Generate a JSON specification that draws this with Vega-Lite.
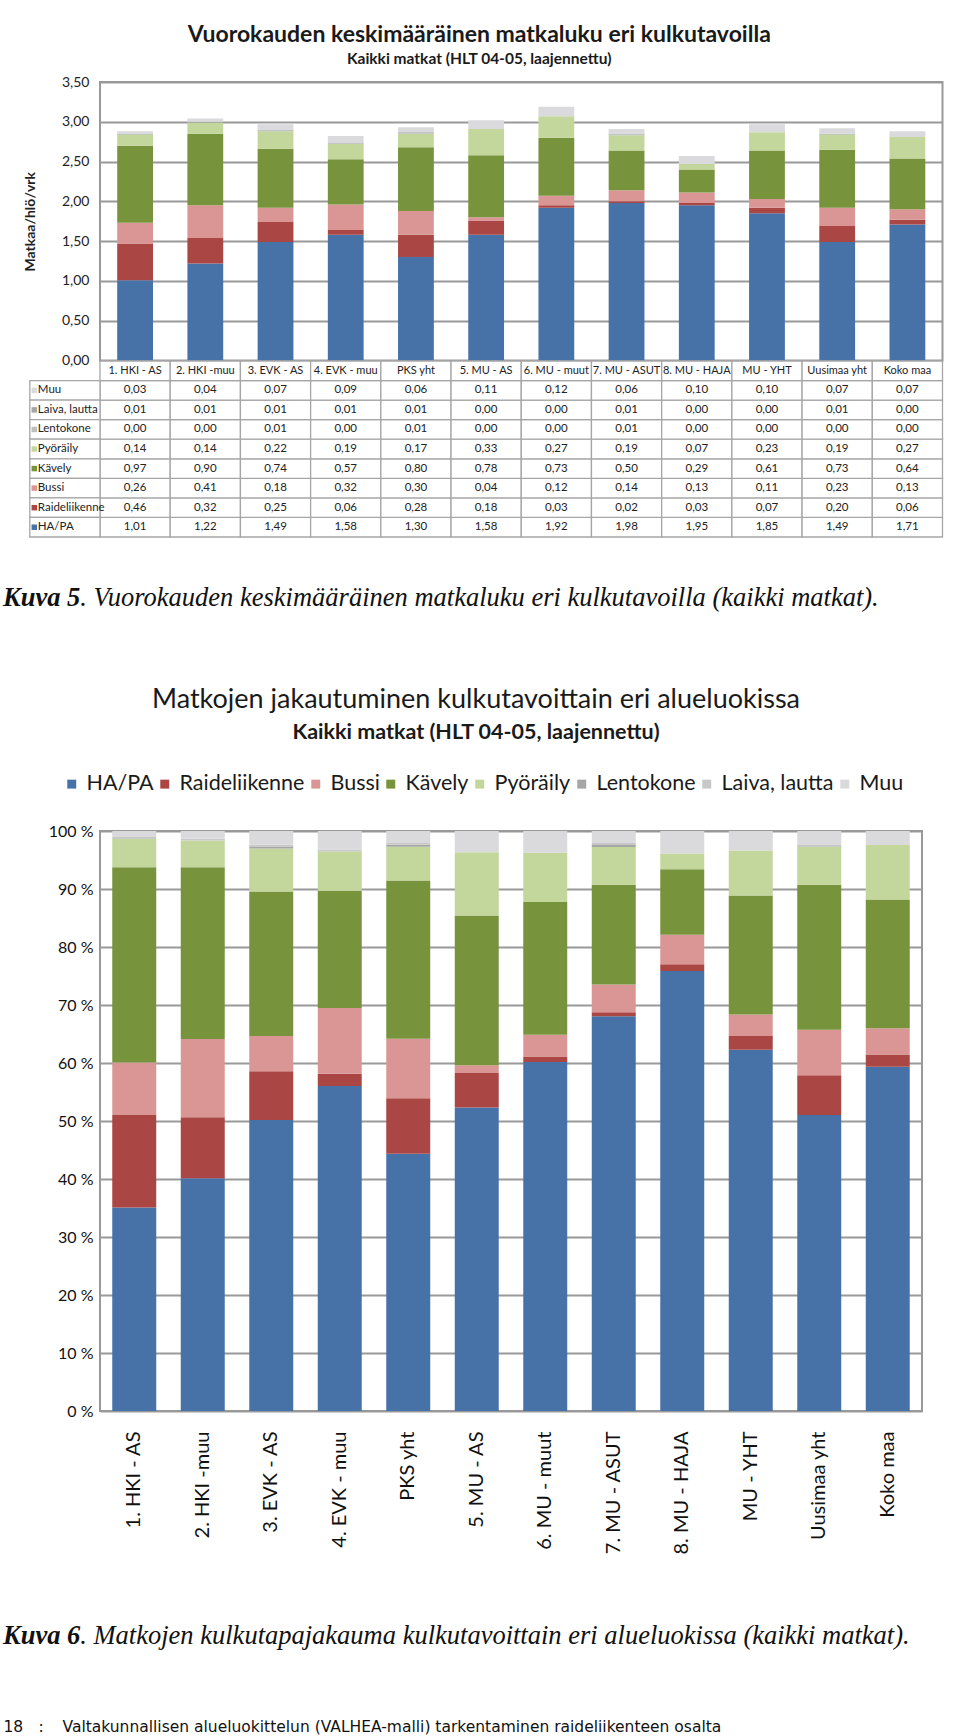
{
  "$schema": "https://vega.github.io/schema/vega-lite/v6.json",
  "background": "white",
  "padding": {"left": 3, "top": 22, "right": 0, "bottom": 0},
  "config": {
    "font": "Lato",
    "locale": {"number": {"decimal": ",", "thousands": "\u00a0", "grouping": [3], "currency": ["", " €"]}},
    "view": {"stroke": null},
    "axis": {"labelFont": "Lato", "titleFont": "Lato"},
    "legend": {"labelFont": "Lato"},
    "title": {"font": "Lato", "subtitleFont": "Lato"},
    "text": {"font": "Lato"}
  },
  "datasets": {
    "trips": [
      {"alue":"1. HKI - AS","kulkutapa":"HA/PA","matkat":1.01},
      {"alue":"2. HKI -muu","kulkutapa":"HA/PA","matkat":1.22},
      {"alue":"3. EVK - AS","kulkutapa":"HA/PA","matkat":1.49},
      {"alue":"4. EVK - muu","kulkutapa":"HA/PA","matkat":1.58},
      {"alue":"PKS yht","kulkutapa":"HA/PA","matkat":1.30},
      {"alue":"5. MU - AS","kulkutapa":"HA/PA","matkat":1.58},
      {"alue":"6. MU - muut","kulkutapa":"HA/PA","matkat":1.92},
      {"alue":"7. MU - ASUT","kulkutapa":"HA/PA","matkat":1.98},
      {"alue":"8. MU - HAJA","kulkutapa":"HA/PA","matkat":1.95},
      {"alue":"MU - YHT","kulkutapa":"HA/PA","matkat":1.85},
      {"alue":"Uusimaa yht","kulkutapa":"HA/PA","matkat":1.49},
      {"alue":"Koko maa","kulkutapa":"HA/PA","matkat":1.71},
      {"alue":"1. HKI - AS","kulkutapa":"Raideliikenne","matkat":0.46},
      {"alue":"2. HKI -muu","kulkutapa":"Raideliikenne","matkat":0.32},
      {"alue":"3. EVK - AS","kulkutapa":"Raideliikenne","matkat":0.25},
      {"alue":"4. EVK - muu","kulkutapa":"Raideliikenne","matkat":0.06},
      {"alue":"PKS yht","kulkutapa":"Raideliikenne","matkat":0.28},
      {"alue":"5. MU - AS","kulkutapa":"Raideliikenne","matkat":0.18},
      {"alue":"6. MU - muut","kulkutapa":"Raideliikenne","matkat":0.03},
      {"alue":"7. MU - ASUT","kulkutapa":"Raideliikenne","matkat":0.02},
      {"alue":"8. MU - HAJA","kulkutapa":"Raideliikenne","matkat":0.03},
      {"alue":"MU - YHT","kulkutapa":"Raideliikenne","matkat":0.07},
      {"alue":"Uusimaa yht","kulkutapa":"Raideliikenne","matkat":0.20},
      {"alue":"Koko maa","kulkutapa":"Raideliikenne","matkat":0.06},
      {"alue":"1. HKI - AS","kulkutapa":"Bussi","matkat":0.26},
      {"alue":"2. HKI -muu","kulkutapa":"Bussi","matkat":0.41},
      {"alue":"3. EVK - AS","kulkutapa":"Bussi","matkat":0.18},
      {"alue":"4. EVK - muu","kulkutapa":"Bussi","matkat":0.32},
      {"alue":"PKS yht","kulkutapa":"Bussi","matkat":0.30},
      {"alue":"5. MU - AS","kulkutapa":"Bussi","matkat":0.04},
      {"alue":"6. MU - muut","kulkutapa":"Bussi","matkat":0.12},
      {"alue":"7. MU - ASUT","kulkutapa":"Bussi","matkat":0.14},
      {"alue":"8. MU - HAJA","kulkutapa":"Bussi","matkat":0.13},
      {"alue":"MU - YHT","kulkutapa":"Bussi","matkat":0.11},
      {"alue":"Uusimaa yht","kulkutapa":"Bussi","matkat":0.23},
      {"alue":"Koko maa","kulkutapa":"Bussi","matkat":0.13},
      {"alue":"1. HKI - AS","kulkutapa":"Kävely","matkat":0.97},
      {"alue":"2. HKI -muu","kulkutapa":"Kävely","matkat":0.90},
      {"alue":"3. EVK - AS","kulkutapa":"Kävely","matkat":0.74},
      {"alue":"4. EVK - muu","kulkutapa":"Kävely","matkat":0.57},
      {"alue":"PKS yht","kulkutapa":"Kävely","matkat":0.80},
      {"alue":"5. MU - AS","kulkutapa":"Kävely","matkat":0.78},
      {"alue":"6. MU - muut","kulkutapa":"Kävely","matkat":0.73},
      {"alue":"7. MU - ASUT","kulkutapa":"Kävely","matkat":0.50},
      {"alue":"8. MU - HAJA","kulkutapa":"Kävely","matkat":0.29},
      {"alue":"MU - YHT","kulkutapa":"Kävely","matkat":0.61},
      {"alue":"Uusimaa yht","kulkutapa":"Kävely","matkat":0.73},
      {"alue":"Koko maa","kulkutapa":"Kävely","matkat":0.64},
      {"alue":"1. HKI - AS","kulkutapa":"Pyöräily","matkat":0.14},
      {"alue":"2. HKI -muu","kulkutapa":"Pyöräily","matkat":0.14},
      {"alue":"3. EVK - AS","kulkutapa":"Pyöräily","matkat":0.22},
      {"alue":"4. EVK - muu","kulkutapa":"Pyöräily","matkat":0.19},
      {"alue":"PKS yht","kulkutapa":"Pyöräily","matkat":0.17},
      {"alue":"5. MU - AS","kulkutapa":"Pyöräily","matkat":0.33},
      {"alue":"6. MU - muut","kulkutapa":"Pyöräily","matkat":0.27},
      {"alue":"7. MU - ASUT","kulkutapa":"Pyöräily","matkat":0.19},
      {"alue":"8. MU - HAJA","kulkutapa":"Pyöräily","matkat":0.07},
      {"alue":"MU - YHT","kulkutapa":"Pyöräily","matkat":0.23},
      {"alue":"Uusimaa yht","kulkutapa":"Pyöräily","matkat":0.19},
      {"alue":"Koko maa","kulkutapa":"Pyöräily","matkat":0.27},
      {"alue":"1. HKI - AS","kulkutapa":"Lentokone","matkat":0.00},
      {"alue":"2. HKI -muu","kulkutapa":"Lentokone","matkat":0.00},
      {"alue":"3. EVK - AS","kulkutapa":"Lentokone","matkat":0.01},
      {"alue":"4. EVK - muu","kulkutapa":"Lentokone","matkat":0.00},
      {"alue":"PKS yht","kulkutapa":"Lentokone","matkat":0.01},
      {"alue":"5. MU - AS","kulkutapa":"Lentokone","matkat":0.00},
      {"alue":"6. MU - muut","kulkutapa":"Lentokone","matkat":0.00},
      {"alue":"7. MU - ASUT","kulkutapa":"Lentokone","matkat":0.01},
      {"alue":"8. MU - HAJA","kulkutapa":"Lentokone","matkat":0.00},
      {"alue":"MU - YHT","kulkutapa":"Lentokone","matkat":0.00},
      {"alue":"Uusimaa yht","kulkutapa":"Lentokone","matkat":0.00},
      {"alue":"Koko maa","kulkutapa":"Lentokone","matkat":0.00},
      {"alue":"1. HKI - AS","kulkutapa":"Laiva, lautta","matkat":0.01},
      {"alue":"2. HKI -muu","kulkutapa":"Laiva, lautta","matkat":0.01},
      {"alue":"3. EVK - AS","kulkutapa":"Laiva, lautta","matkat":0.01},
      {"alue":"4. EVK - muu","kulkutapa":"Laiva, lautta","matkat":0.01},
      {"alue":"PKS yht","kulkutapa":"Laiva, lautta","matkat":0.01},
      {"alue":"5. MU - AS","kulkutapa":"Laiva, lautta","matkat":0.00},
      {"alue":"6. MU - muut","kulkutapa":"Laiva, lautta","matkat":0.00},
      {"alue":"7. MU - ASUT","kulkutapa":"Laiva, lautta","matkat":0.01},
      {"alue":"8. MU - HAJA","kulkutapa":"Laiva, lautta","matkat":0.00},
      {"alue":"MU - YHT","kulkutapa":"Laiva, lautta","matkat":0.00},
      {"alue":"Uusimaa yht","kulkutapa":"Laiva, lautta","matkat":0.01},
      {"alue":"Koko maa","kulkutapa":"Laiva, lautta","matkat":0.00},
      {"alue":"1. HKI - AS","kulkutapa":"Muu","matkat":0.03},
      {"alue":"2. HKI -muu","kulkutapa":"Muu","matkat":0.04},
      {"alue":"3. EVK - AS","kulkutapa":"Muu","matkat":0.07},
      {"alue":"4. EVK - muu","kulkutapa":"Muu","matkat":0.09},
      {"alue":"PKS yht","kulkutapa":"Muu","matkat":0.06},
      {"alue":"5. MU - AS","kulkutapa":"Muu","matkat":0.11},
      {"alue":"6. MU - muut","kulkutapa":"Muu","matkat":0.12},
      {"alue":"7. MU - ASUT","kulkutapa":"Muu","matkat":0.06},
      {"alue":"8. MU - HAJA","kulkutapa":"Muu","matkat":0.10},
      {"alue":"MU - YHT","kulkutapa":"Muu","matkat":0.10},
      {"alue":"Uusimaa yht","kulkutapa":"Muu","matkat":0.07},
      {"alue":"Koko maa","kulkutapa":"Muu","matkat":0.07}
    ],
    "areas": [
      {"alue":"1. HKI - AS"},{"alue":"2. HKI -muu"},{"alue":"3. EVK - AS"},{"alue":"4. EVK - muu"},
      {"alue":"PKS yht"},{"alue":"5. MU - AS"},{"alue":"6. MU - muut"},{"alue":"7. MU - ASUT"},
      {"alue":"8. MU - HAJA"},{"alue":"MU - YHT"},{"alue":"Uusimaa yht"},{"alue":"Koko maa"}
    ],
    "modes": [
      {"kulkutapa":"Muu","jarjestys":8},{"kulkutapa":"Laiva, lautta","jarjestys":7},{"kulkutapa":"Lentokone","jarjestys":6},{"kulkutapa":"Pyöräily","jarjestys":5},
      {"kulkutapa":"Kävely","jarjestys":4},{"kulkutapa":"Bussi","jarjestys":3},{"kulkutapa":"Raideliikenne","jarjestys":2},{"kulkutapa":"HA/PA","jarjestys":1}
    ],
    "captions": [
      {"kuva5a":"Kuva 5","kuva5b":". Vuorokauden keskimääräinen matkaluku eri kulkutavoilla (kaikki matkat).",
       "kuva6a":"Kuva 6","kuva6b":". Matkojen kulkutapajakauma kulkutavoittain eri alueluokissa (kaikki matkat).",
       "sivu":"18","sep":":","alatunniste":"Valtakunnallisen alueluokittelun (VALHEA-malli) tarkentaminen raideliikenteen osalta"}
    ]
  },
  "resolve": {"scale": {"x": "independent", "y": "independent", "color": "independent"}, "legend": {"color": "independent"}},
  "spacing": 0,
  "vconcat": [
    {
      "spacing": 0,
      "bounds": "flush",
      "resolve": {"scale": {"x": "independent", "y": "independent", "color": "independent"}},
      "vconcat": [
        {
          "width": 842.5,
          "height": 278.5,
          "view": {"stroke": "#999999", "strokeWidth": 2},
          "title": {
            "text": "Vuorokauden keskimääräinen matkaluku eri kulkutavoilla",
            "subtitle": "Kaikki matkat (HLT 04-05, laajennettu)",
            "fontSize": 23, "fontWeight": "bold", "color": "#1a1a1a",
            "subtitleFontSize": 15.5, "subtitleFontWeight": "bold", "subtitleColor": "#1a1a1a",
            "anchor": "middle", "offset": 8, "subtitlePadding": 5, "dx": -42
          },
          "data": {"name": "trips"},
          "transform": [{"lookup": "kulkutapa", "from": {"data": {"name": "modes"}, "key": "kulkutapa", "fields": ["jarjestys"]}}],
          "mark": {"type": "bar", "width": {"band": 0.51}},
          "encoding": {
            "x": {"field": "alue", "type": "nominal",
                  "sort": ["1. HKI - AS","2. HKI -muu","3. EVK - AS","4. EVK - muu","PKS yht","5. MU - AS","6. MU - muut","7. MU - ASUT","8. MU - HAJA","MU - YHT","Uusimaa yht","Koko maa"],
                  "scale": {"paddingInner": 0, "paddingOuter": 0}, "axis": null},
            "y": {"aggregate": "sum", "field": "matkat", "type": "quantitative",
                  "scale": {"domain": [0, 3.5]},
                  "axis": {"values": [0, 0.5, 1, 1.5, 2, 2.5, 3, 3.5], "format": ".2f", "title": "Matkaa/hlö/vrk",
                           "grid": true, "gridColor": "#999999", "gridWidth": 2, "domain": false, "ticks": false, "tickSize": 0,
                           "labelFontSize": 14, "labelPadding": 11, "labelColor": "#222222",
                           "titleFontSize": 14, "titleFontWeight": "bold", "titleColor": "#222222",
                           "minExtent": 52, "maxExtent": 52, "titlePadding": 11}},
            "color": {"field": "kulkutapa", "type": "nominal",
                      "scale": {"domain": ["HA/PA","Raideliikenne","Bussi","Kävely","Pyöräily","Lentokone","Laiva, lautta","Muu"],
                                "range": ["#4672A8","#AA4643","#D99694","#77933C","#C3D69B","#BFBFBF","#A6A6A6","#DADADD"]},
                      "legend": null},
            "order": {"field": "jarjestys", "type": "quantitative", "sort": "ascending"}
          }
        },
        {
          "width": 842.5,
          "height": 176,
          "layer": [
            {
              "data": {"name": "trips"},
              "mark": {"type": "rect", "fill": "white", "stroke": "#a6a6a6", "strokeWidth": 1.3},
              "encoding": {
                "x": {"field": "alue", "type": "nominal", "scale": {"domain": ["1. HKI - AS","2. HKI -muu","3. EVK - AS","4. EVK - muu","PKS yht","5. MU - AS","6. MU - muut","7. MU - ASUT","8. MU - HAJA","MU - YHT","Uusimaa yht","Koko maa"], "paddingInner": 0, "paddingOuter": 0}, "axis": null},
                "y": {"field": "kulkutapa", "type": "nominal", "scale": {"domain": ["hdr","Muu","Laiva, lautta","Lentokone","Pyöräily","Kävely","Bussi","Raideliikenne","HA/PA"], "paddingInner": 0, "paddingOuter": 0}, "axis": null}
              }
            },
            {
              "data": {"name": "areas"},
              "mark": {"type": "rect", "fill": "white", "stroke": "#a6a6a6", "strokeWidth": 1.3},
              "encoding": {
                "x": {"field": "alue", "type": "nominal"},
                "y": {"datum": "hdr", "type": "nominal"}
              }
            },
            {
              "data": {"name": "modes"},
              "mark": {"type": "rect", "fill": "white", "stroke": "#a6a6a6", "strokeWidth": 1.3, "xOffset": -70.2, "x2Offset": -70.2},
              "encoding": {
                "x": {"datum": "1. HKI - AS", "type": "nominal"},
                "y": {"field": "kulkutapa", "type": "nominal"}
              }
            },
            {
              "data": {"name": "trips"},
              "mark": {"type": "text", "fontSize": 11.5, "color": "#222222", "baseline": "middle"},
              "encoding": {
                "x": {"field": "alue", "type": "nominal"},
                "y": {"field": "kulkutapa", "type": "nominal"},
                "text": {"field": "matkat", "type": "quantitative", "format": ".2f"}
              }
            },
            {
              "data": {"name": "areas"},
              "mark": {"type": "text", "fontSize": 11, "color": "#222222", "baseline": "middle"},
              "encoding": {
                "x": {"field": "alue", "type": "nominal"},
                "y": {"datum": "hdr", "type": "nominal"},
                "text": {"field": "alue", "type": "nominal"}
              }
            },
            {
              "data": {"name": "modes"},
              "mark": {"type": "square", "size": 30, "opacity": 1, "xOffset": -100.8},
              "encoding": {
                "x": {"datum": "1. HKI - AS", "type": "nominal"},
                "y": {"field": "kulkutapa", "type": "nominal"},
                "color": {"field": "kulkutapa", "type": "nominal",
                          "scale": {"domain": ["HA/PA","Raideliikenne","Bussi","Kävely","Pyöräily","Lentokone","Laiva, lautta","Muu"],
                                    "range": ["#4672A8","#AA4643","#D99694","#77933C","#C3D69B","#BFBFBF","#A6A6A6","#DADADD"]},
                          "legend": null}
              }
            },
            {
              "data": {"name": "modes"},
              "mark": {"type": "text", "fontSize": 11.5, "color": "#222222", "align": "left", "baseline": "middle", "dx": -97.3},
              "encoding": {
                "x": {"datum": "1. HKI - AS", "type": "nominal"},
                "y": {"field": "kulkutapa", "type": "nominal"},
                "text": {"field": "kulkutapa", "type": "nominal"}
              }
            }
          ]
        }
      ]
    },
    {
      "width": 1,
      "height": 145.5,
      "data": {"name": "captions"},
      "layer": [
        {"mark": {"type": "text", "align": "left", "baseline": "middle", "font": "Liberation Serif", "fontStyle": "italic", "fontWeight": "bold", "fontSize": 26.5, "color": "#111111", "dx": -97.5, "dy": -13},
         "encoding": {"text": {"field": "kuva5a"}}},
        {"mark": {"type": "text", "align": "left", "baseline": "middle", "font": "Liberation Serif", "fontStyle": "italic", "fontWeight": "normal", "fontSize": 26.5, "color": "#111111", "dx": -20.2, "dy": -13},
         "encoding": {"text": {"field": "kuva5b"}}}
      ]
    },
    {
      "width": 822,
      "height": 580,
      "view": {"stroke": "#999999", "strokeWidth": 2},
      "title": {
        "text": "Matkojen jakautuminen kulkutavoittain eri alueluokissa",
        "subtitle": "Kaikki matkat (HLT 04-05, laajennettu)",
        "fontSize": 27, "fontWeight": "normal", "color": "#1a1a1a",
        "subtitleFontSize": 21.5, "subtitleFontWeight": "bold", "subtitleColor": "#1a1a1a",
        "anchor": "middle", "offset": 29, "subtitlePadding": 8, "dx": -35
      },
      "data": {"name": "trips"},
      "transform": [{"lookup": "kulkutapa", "from": {"data": {"name": "modes"}, "key": "kulkutapa", "fields": ["jarjestys"]}}],
      "mark": {"type": "bar", "width": {"band": 0.642}},
      "encoding": {
        "x": {"field": "alue", "type": "nominal",
              "sort": ["1. HKI - AS","2. HKI -muu","3. EVK - AS","4. EVK - muu","PKS yht","5. MU - AS","6. MU - muut","7. MU - ASUT","8. MU - HAJA","MU - YHT","Uusimaa yht","Koko maa"],
              "scale": {"paddingInner": 0, "paddingOuter": 0},
              "axis": {"title": null, "labelAngle": -90, "labelFontSize": 20, "labelPadding": 20, "ticks": false, "domain": false,
                       "labelColor": "#111111", "labelLimit": 0, "labelOverlap": false}},
        "y": {"aggregate": "sum", "field": "matkat", "type": "quantitative", "stack": "normalize",
              "scale": {"domain": [0, 1]},
              "axis": {"values": [0, 0.1, 0.2, 0.3, 0.4, 0.5, 0.6, 0.7, 0.8, 0.9, 1], "labelExpr": "round(datum.value*100) + ' %'",
                       "title": null, "grid": true, "gridColor": "#999999", "gridWidth": 2, "domain": false, "ticks": false, "tickSize": 0,
                       "labelFontSize": 16, "labelPadding": 7, "labelColor": "#111111"}},
        "color": {"field": "kulkutapa", "type": "nominal",
                  "scale": {"domain": ["HA/PA","Raideliikenne","Bussi","Kävely","Pyöräily","Lentokone","Laiva, lautta","Muu"],
                            "range": ["#4672A8","#AA4643","#D99694","#77933C","#C3D69B","#A6A6A6","#C8C8C8","#DADADD"]},
                  "legend": {"orient": "none", "legendX": -39, "legendY": -58, "direction": "horizontal", "columns": 8,
                             "title": null, "symbolType": "square", "symbolSize": 80, "symbolStrokeWidth": 0,
                             "labelFontSize": 21.5, "labelColor": "#1a1a1a", "labelOffset": 4, "columnPadding": -4, "labelLimit": 0}},
        "order": {"field": "jarjestys", "type": "quantitative", "sort": "ascending"}
      }
    },
    {
      "width": 1,
      "height": 179,
      "data": {"name": "captions"},
      "layer": [
        {"mark": {"type": "text", "align": "left", "baseline": "middle", "font": "Liberation Serif", "fontStyle": "italic", "fontWeight": "bold", "fontSize": 26.5, "color": "#111111", "dx": -97.5, "dy": -9.5},
         "encoding": {"text": {"field": "kuva6a"}}},
        {"mark": {"type": "text", "align": "left", "baseline": "middle", "font": "Liberation Serif", "fontStyle": "italic", "fontWeight": "normal", "fontSize": 26.5, "color": "#111111", "dx": -20.2, "dy": -9.5},
         "encoding": {"text": {"field": "kuva6b"}}},
        {"mark": {"type": "text", "align": "left", "baseline": "middle", "font": "DejaVu Sans", "fontSize": 15.5, "color": "#111111", "dx": -97, "dy": 81.5},
         "encoding": {"text": {"field": "sivu"}}},
        {"mark": {"type": "text", "align": "left", "baseline": "middle", "font": "DejaVu Sans", "fontSize": 15.5, "color": "#111111", "dx": -62, "dy": 81.5},
         "encoding": {"text": {"field": "sep"}}},
        {"mark": {"type": "text", "align": "left", "baseline": "middle", "font": "DejaVu Sans", "fontSize": 15.5, "color": "#111111", "dx": -38, "dy": 81.5},
         "encoding": {"text": {"field": "alatunniste"}}}
      ]
    }
  ]
}
